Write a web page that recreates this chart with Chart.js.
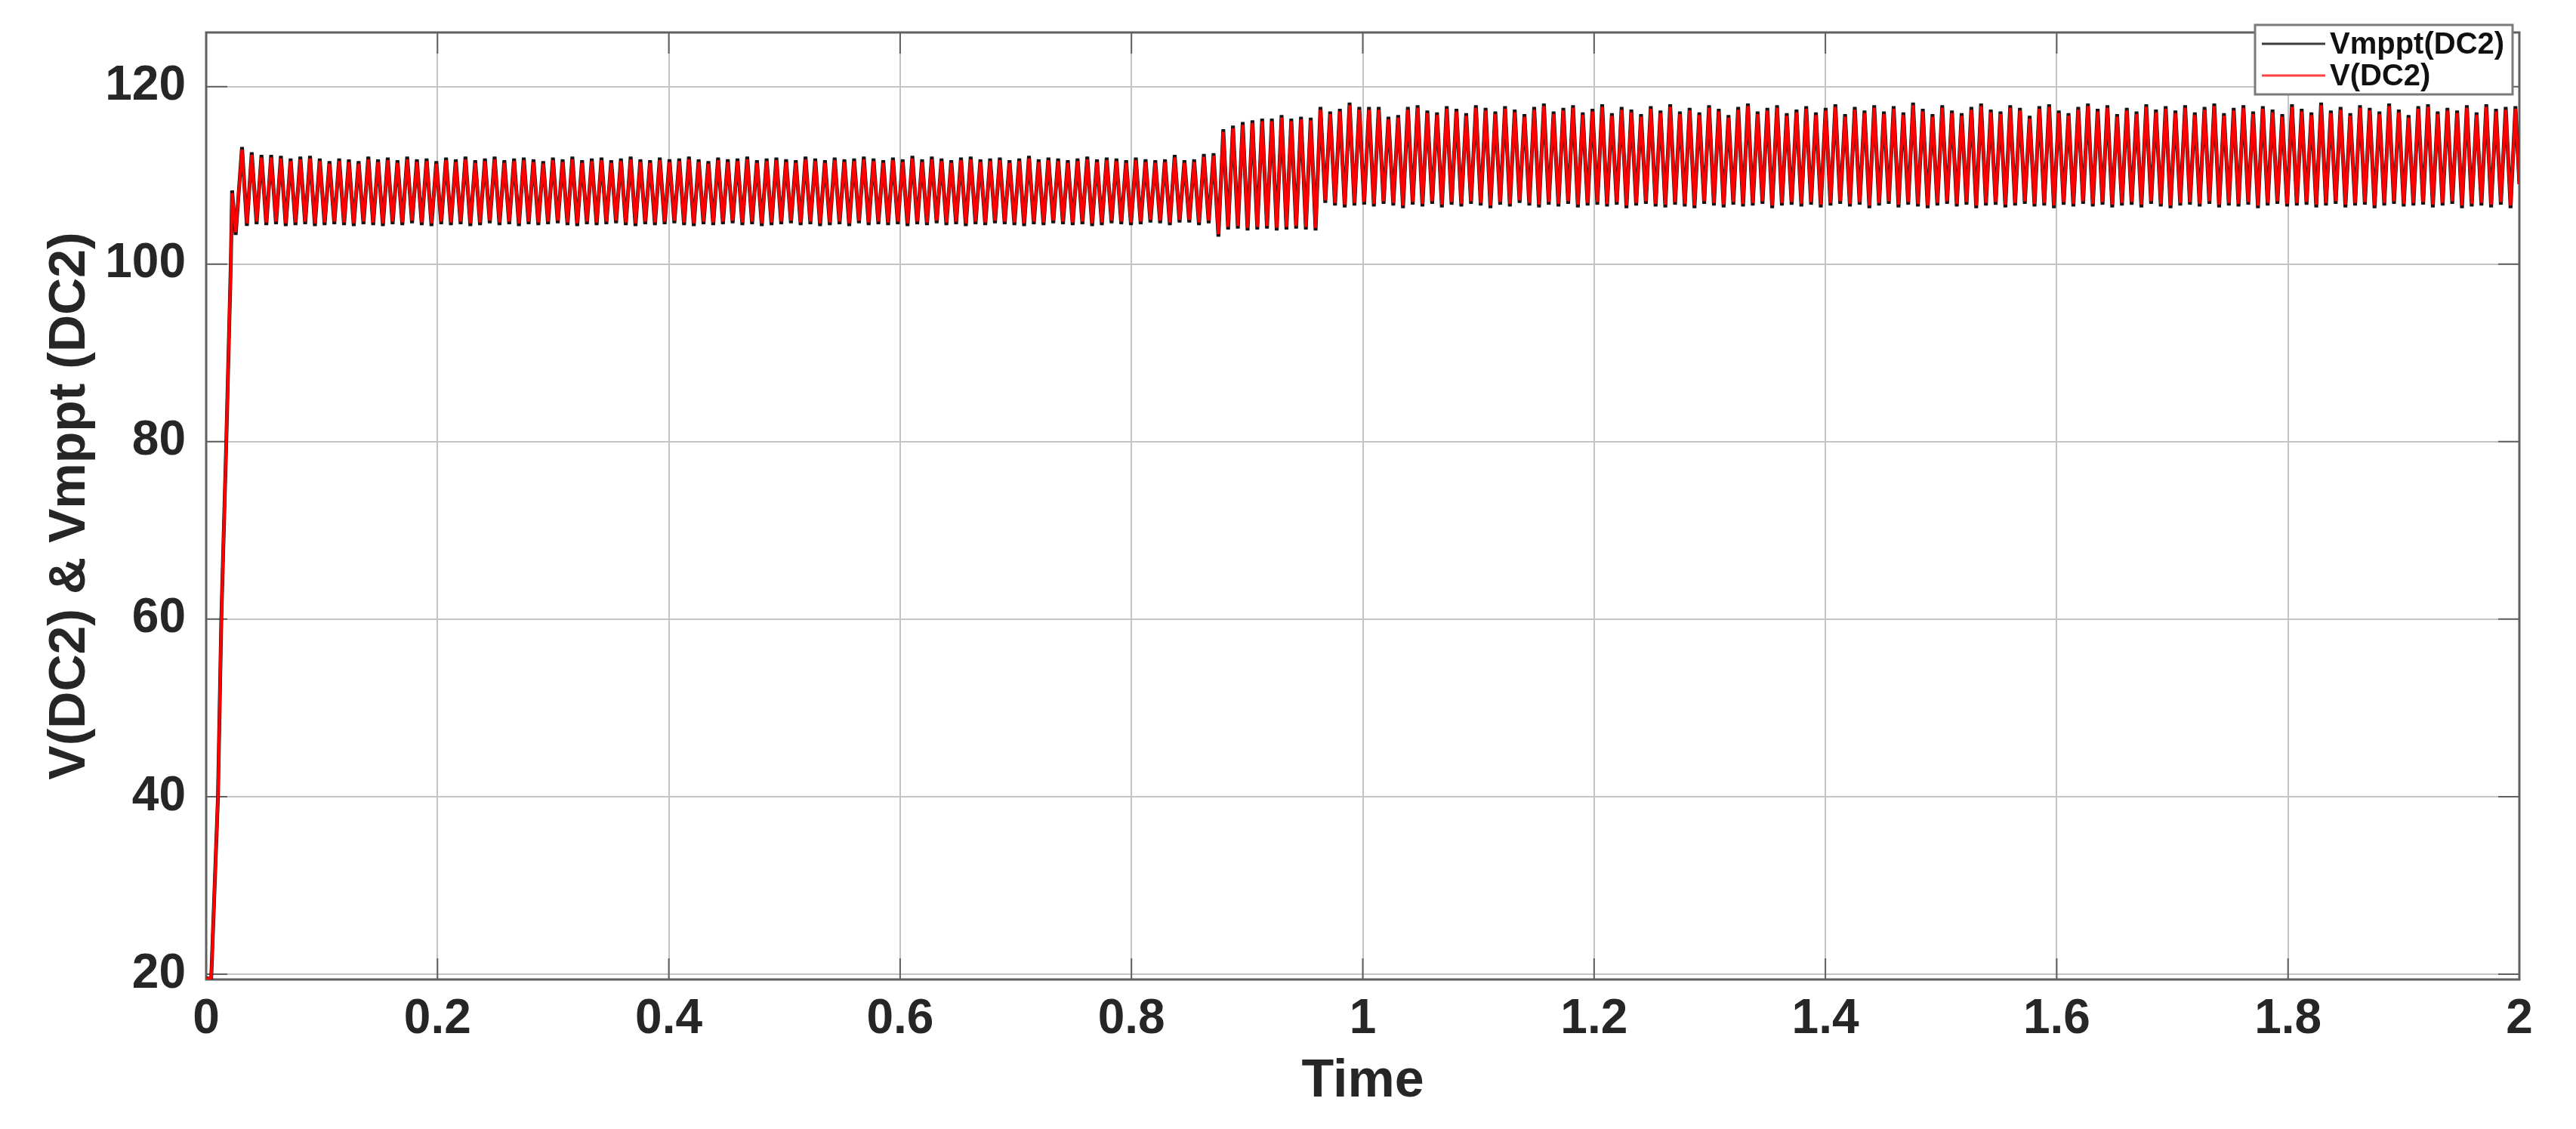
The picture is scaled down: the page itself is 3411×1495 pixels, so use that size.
<!DOCTYPE html>
<html>
<head>
<meta charset="utf-8">
<title>V(DC2) & Vmppt (DC2)</title>
<script src="https://cdn.jsdelivr.net/npm/chart.js@4.4.1/dist/chart.umd.min.js"></script>
<style>
  html, body { margin: 0; padding: 0; background: #fff; }
</style>
</head>
<body>
<canvas id="voltChart" width="3411" height="1495"></canvas>
<script>
// simulation time (s) at the start-up points and at each ripple peak / trough
const time = [
  0, 0.0044, 0.0102, 0.0131, 0.0174, 0.0213, 0.0224, 0.0255,
  0.031, 0.0352, 0.0394, 0.0436, 0.0478, 0.052, 0.0562, 0.0604, 0.0646, 0.0688,
  0.073, 0.0772, 0.0814, 0.0856, 0.0898, 0.094, 0.0982, 0.1024, 0.1066, 0.1108,
  0.115, 0.1192, 0.1234, 0.1276, 0.1318, 0.136, 0.1402, 0.1444, 0.1486, 0.1528,
  0.157, 0.1612, 0.1654, 0.1696, 0.1738, 0.178, 0.1822, 0.1864, 0.1906, 0.1948,
  0.199, 0.2032, 0.2074, 0.2116, 0.2158, 0.22, 0.2242, 0.2284, 0.2326, 0.2368,
  0.241, 0.2452, 0.2494, 0.2536, 0.2578, 0.262, 0.2662, 0.2704, 0.2746, 0.2788,
  0.283, 0.2872, 0.2914, 0.2956, 0.2998, 0.304, 0.3082, 0.3124, 0.3166, 0.3208,
  0.325, 0.3292, 0.3334, 0.3376, 0.3418, 0.346, 0.3502, 0.3544, 0.3586, 0.3628,
  0.367, 0.3712, 0.3754, 0.3796, 0.3838, 0.388, 0.3922, 0.3964, 0.4006, 0.4048,
  0.409, 0.4132, 0.4174, 0.4216, 0.4258, 0.43, 0.4342, 0.4384, 0.4426, 0.4468,
  0.451, 0.4552, 0.4594, 0.4636, 0.4678, 0.472, 0.4762, 0.4804, 0.4846, 0.4888,
  0.493, 0.4972, 0.5014, 0.5056, 0.5098, 0.514, 0.5182, 0.5224, 0.5266, 0.5308,
  0.535, 0.5392, 0.5434, 0.5476, 0.5518, 0.556, 0.5602, 0.5644, 0.5686, 0.5728,
  0.577, 0.5812, 0.5854, 0.5896, 0.5938, 0.598, 0.6022, 0.6064, 0.6106, 0.6148,
  0.619, 0.6232, 0.6274, 0.6316, 0.6358, 0.64, 0.6442, 0.6484, 0.6526, 0.6568,
  0.661, 0.6652, 0.6694, 0.6736, 0.6778, 0.682, 0.6862, 0.6904, 0.6946, 0.6988,
  0.703, 0.7072, 0.7114, 0.7156, 0.7198, 0.724, 0.7282, 0.7324, 0.7366, 0.7408,
  0.745, 0.7492, 0.7534, 0.7576, 0.7618, 0.766, 0.7702, 0.7744, 0.7786, 0.7828,
  0.787, 0.7912, 0.7954, 0.7996, 0.8038, 0.808, 0.8122, 0.8164, 0.8206, 0.8248,
  0.829, 0.8332, 0.8374, 0.8416, 0.8458, 0.85, 0.8542, 0.8584, 0.8626, 0.8668,
  0.871, 0.8752, 0.8794, 0.8836, 0.8878, 0.892, 0.8962, 0.9004, 0.9046, 0.9088,
  0.913, 0.9172, 0.9214, 0.9256, 0.9298, 0.934, 0.9382, 0.9424, 0.9466, 0.9508,
  0.955, 0.9592, 0.9634, 0.9676, 0.9718, 0.976, 0.9802, 0.9844, 0.9886, 0.9928,
  0.997, 1.0012, 1.0054, 1.0096, 1.0138, 1.018, 1.0222, 1.0264, 1.0306, 1.0348,
  1.039, 1.0432, 1.0474, 1.0516, 1.0558, 1.06, 1.0642, 1.0684, 1.0726, 1.0768,
  1.081, 1.0852, 1.0894, 1.0936, 1.0978, 1.102, 1.1062, 1.1104, 1.1146, 1.1188,
  1.123, 1.1272, 1.1314, 1.1356, 1.1398, 1.144, 1.1482, 1.1524, 1.1566, 1.1608,
  1.165, 1.1692, 1.1734, 1.1776, 1.1818, 1.186, 1.1902, 1.1944, 1.1986, 1.2028,
  1.207, 1.2112, 1.2154, 1.2196, 1.2238, 1.228, 1.2322, 1.2364, 1.2406, 1.2448,
  1.249, 1.2532, 1.2574, 1.2616, 1.2658, 1.27, 1.2742, 1.2784, 1.2826, 1.2868,
  1.291, 1.2952, 1.2994, 1.3036, 1.3078, 1.312, 1.3162, 1.3204, 1.3246, 1.3288,
  1.333, 1.3372, 1.3414, 1.3456, 1.3498, 1.354, 1.3582, 1.3624, 1.3666, 1.3708,
  1.375, 1.3792, 1.3834, 1.3876, 1.3918, 1.396, 1.4002, 1.4044, 1.4086, 1.4128,
  1.417, 1.4212, 1.4254, 1.4296, 1.4338, 1.438, 1.4422, 1.4464, 1.4506, 1.4548,
  1.459, 1.4632, 1.4674, 1.4716, 1.4758, 1.48, 1.4842, 1.4884, 1.4926, 1.4968,
  1.501, 1.5052, 1.5094, 1.5136, 1.5178, 1.522, 1.5262, 1.5304, 1.5346, 1.5388,
  1.543, 1.5472, 1.5514, 1.5556, 1.5598, 1.564, 1.5682, 1.5724, 1.5766, 1.5808,
  1.585, 1.5892, 1.5934, 1.5976, 1.6018, 1.606, 1.6102, 1.6144, 1.6186, 1.6228,
  1.627, 1.6312, 1.6354, 1.6396, 1.6438, 1.648, 1.6522, 1.6564, 1.6606, 1.6648,
  1.669, 1.6732, 1.6774, 1.6816, 1.6858, 1.69, 1.6942, 1.6984, 1.7026, 1.7068,
  1.711, 1.7152, 1.7194, 1.7236, 1.7278, 1.732, 1.7362, 1.7404, 1.7446, 1.7488,
  1.753, 1.7572, 1.7614, 1.7656, 1.7698, 1.774, 1.7782, 1.7824, 1.7866, 1.7908,
  1.795, 1.7992, 1.8034, 1.8076, 1.8118, 1.816, 1.8202, 1.8244, 1.8286, 1.8328,
  1.837, 1.8412, 1.8454, 1.8496, 1.8538, 1.858, 1.8622, 1.8664, 1.8706, 1.8748,
  1.879, 1.8832, 1.8874, 1.8916, 1.8958, 1.9, 1.9042, 1.9084, 1.9126, 1.9168,
  1.921, 1.9252, 1.9294, 1.9336, 1.9378, 1.942, 1.9462, 1.9504, 1.9546, 1.9588,
  1.963, 1.9672, 1.9714, 1.9756, 1.9798, 1.984, 1.9882, 1.9924, 1.9966,
  2.0
];

// measured DC-link voltage V(DC2)
const vDC2 = [
  19.5, 19.6, 40, 60, 80, 100, 108.0, 103.6,
  112.9, 104.6, 112.3, 104.8, 112.0, 104.7, 112.0, 104.8, 111.9, 104.6,
  111.6, 104.7, 111.8, 104.8, 111.9, 104.6, 111.6, 104.7, 111.3, 104.8,
  111.6, 104.7, 111.5, 104.6, 111.3, 104.8, 111.8, 104.7, 111.5, 104.6,
  111.7, 104.8, 111.4, 104.7, 111.8, 104.9, 111.5, 104.7, 111.6, 104.6,
  111.3, 104.8, 111.7, 104.7, 111.5, 104.8, 111.8, 104.6, 111.4, 104.7,
  111.6, 104.9, 111.8, 104.7, 111.4, 104.8, 111.6, 104.6, 111.7, 104.8,
  111.5, 104.7, 111.3, 104.8, 111.7, 104.9, 111.5, 104.7, 111.8, 104.6,
  111.4, 104.8, 111.6, 104.7, 111.7, 104.8, 111.4, 104.9, 111.6, 104.7,
  111.8, 104.6, 111.5, 104.8, 111.4, 104.7, 111.7, 104.8, 111.5, 104.9,
  111.6, 104.7, 111.8, 104.6, 111.5, 104.8, 111.3, 104.7, 111.7, 104.8,
  111.5, 104.9, 111.6, 104.7, 111.8, 104.8, 111.4, 104.6, 111.6, 104.7,
  111.7, 104.8, 111.5, 104.9, 111.4, 104.7, 111.8, 104.8, 111.6, 104.6,
  111.4, 104.7, 111.7, 104.8, 111.5, 104.6, 111.6, 104.9, 111.8, 104.7,
  111.6, 104.8, 111.4, 104.7, 111.7, 104.8, 111.5, 104.6, 111.9, 104.8,
  111.5, 104.7, 111.8, 104.9, 111.6, 104.7, 111.4, 104.8, 111.7, 104.6,
  111.8, 104.8, 111.5, 104.7, 111.6, 104.9, 111.7, 104.8, 111.4, 104.7,
  111.6, 104.6, 111.9, 104.8, 111.5, 104.7, 111.7, 104.9, 111.6, 104.8,
  111.4, 104.7, 111.6, 104.8, 111.8, 104.6, 111.5, 104.7, 111.7, 104.9,
  111.6, 104.8, 111.4, 104.7, 111.7, 104.8, 111.5, 105.0, 111.4, 104.9,
  111.5, 104.7, 112.0, 105.0, 111.4, 105.0, 111.5, 104.7, 112.1, 104.9,
  112.2, 103.4, 114.9, 104.2, 115.3, 104.3, 115.7, 104.1, 115.9, 104.2,
  116.1, 104.3, 116.1, 104.1, 116.5, 104.2, 116.1, 104.3, 116.3, 104.2,
  116.2, 104.1, 117.4, 107.2, 116.9, 106.9, 117.2, 106.7, 117.9, 106.9,
  117.4, 107.0, 117.4, 106.8, 117.4, 107.1, 116.3, 106.9, 116.5, 106.6,
  117.4, 107.0, 117.6, 106.8, 117.0, 107.1, 116.8, 106.7, 117.5, 107.0,
  117.2, 106.8, 116.7, 107.1, 117.6, 106.9, 117.3, 106.6, 116.9, 107.0,
  117.5, 106.8, 117.1, 107.2, 116.6, 106.9, 117.4, 106.7, 117.8, 107.0,
  116.9, 106.8, 117.3, 107.1, 117.6, 106.7, 116.8, 106.9, 117.2, 107.0,
  117.7, 106.8, 116.7, 107.0, 117.4, 106.6, 117.1, 106.9, 116.6, 107.1,
  117.5, 106.8, 117.0, 106.7, 117.7, 107.0, 116.9, 106.8, 117.3, 106.6,
  116.8, 107.1, 117.6, 106.9, 117.2, 106.7, 116.5, 107.0, 117.4, 106.8,
  117.8, 106.9, 116.9, 107.1, 117.3, 106.6, 117.6, 106.9, 116.7, 107.0,
  117.1, 106.8, 117.5, 107.0, 116.8, 106.7, 117.3, 106.9, 117.7, 107.1,
  116.6, 106.8, 117.4, 107.0, 117.0, 106.6, 117.6, 106.9, 116.9, 107.1,
  117.5, 106.7, 116.8, 107.0, 117.9, 106.8, 117.2, 106.6, 116.6, 106.9,
  117.6, 107.1, 117.0, 106.8, 116.7, 107.0, 117.4, 106.6, 117.8, 106.9,
  117.1, 107.0, 116.9, 106.7, 117.6, 106.9, 117.3, 107.1, 116.4, 106.8,
  117.5, 106.9, 117.7, 106.6, 117.0, 107.0, 116.7, 106.8, 117.4, 107.1,
  117.8, 106.8, 117.2, 107.0, 117.6, 106.7, 116.6, 106.9, 117.3, 107.0,
  116.9, 106.7, 117.7, 107.1, 117.1, 106.8, 117.5, 106.6, 117.0, 106.9,
  117.6, 107.0, 116.8, 106.8, 117.4, 107.1, 117.8, 106.7, 116.7, 106.9,
  117.3, 106.8, 117.6, 107.0, 116.9, 106.6, 117.5, 106.9, 117.1, 107.1,
  116.6, 106.8, 117.7, 106.9, 117.2, 107.0, 116.8, 106.7, 117.9, 106.9,
  117.0, 107.1, 117.4, 106.7, 116.7, 106.9, 117.6, 107.0, 117.3, 106.6,
  116.9, 106.9, 117.8, 107.1, 117.1, 106.8, 116.5, 106.9, 117.5, 107.0,
  117.7, 106.7, 116.9, 106.9, 117.3, 107.1, 117.0, 106.6, 117.6, 106.8,
  116.8, 106.9, 117.7, 106.7, 117.2, 107.0, 117.4, 106.6, 117.5,
  109.0
];

// MPPT reference voltage Vmppt(DC2)
const vMppt = [
  19.5, 19.6, 40, 60, 80, 100, 108.3, 103.3,
  113.2, 104.3, 112.6, 104.5, 112.3, 104.4, 112.3, 104.5, 112.2, 104.3,
  111.9, 104.4, 112.1, 104.5, 112.2, 104.3, 111.9, 104.4, 111.6, 104.5,
  111.9, 104.4, 111.8, 104.3, 111.6, 104.5, 112.1, 104.4, 111.8, 104.3,
  112.0, 104.5, 111.7, 104.4, 112.1, 104.6, 111.8, 104.4, 111.9, 104.3,
  111.6, 104.5, 112.0, 104.4, 111.8, 104.5, 112.1, 104.3, 111.7, 104.4,
  111.9, 104.6, 112.1, 104.4, 111.7, 104.5, 111.9, 104.3, 112.0, 104.5,
  111.8, 104.4, 111.6, 104.5, 112.0, 104.6, 111.8, 104.4, 112.1, 104.3,
  111.7, 104.5, 111.9, 104.4, 112.0, 104.5, 111.7, 104.6, 111.9, 104.4,
  112.1, 104.3, 111.8, 104.5, 111.7, 104.4, 112.0, 104.5, 111.8, 104.6,
  111.9, 104.4, 112.1, 104.3, 111.8, 104.5, 111.6, 104.4, 112.0, 104.5,
  111.8, 104.6, 111.9, 104.4, 112.1, 104.5, 111.7, 104.3, 111.9, 104.4,
  112.0, 104.5, 111.8, 104.6, 111.7, 104.4, 112.1, 104.5, 111.9, 104.3,
  111.7, 104.4, 112.0, 104.5, 111.8, 104.3, 111.9, 104.6, 112.1, 104.4,
  111.9, 104.5, 111.7, 104.4, 112.0, 104.5, 111.8, 104.3, 112.2, 104.5,
  111.8, 104.4, 112.1, 104.6, 111.9, 104.4, 111.7, 104.5, 112.0, 104.3,
  112.1, 104.5, 111.8, 104.4, 111.9, 104.6, 112.0, 104.5, 111.7, 104.4,
  111.9, 104.3, 112.2, 104.5, 111.8, 104.4, 112.0, 104.6, 111.9, 104.5,
  111.7, 104.4, 111.9, 104.5, 112.1, 104.3, 111.8, 104.4, 112.0, 104.6,
  111.9, 104.5, 111.7, 104.4, 112.0, 104.5, 111.8, 104.7, 111.7, 104.6,
  111.8, 104.4, 112.3, 104.7, 111.7, 104.7, 111.8, 104.4, 112.4, 104.6,
  112.5, 103.1, 115.2, 103.9, 115.6, 104.0, 116.0, 103.8, 116.2, 103.9,
  116.4, 104.0, 116.4, 103.8, 116.8, 103.9, 116.4, 104.0, 116.6, 103.9,
  116.5, 103.8, 117.7, 106.9, 117.2, 106.6, 117.5, 106.4, 118.2, 106.6,
  117.7, 106.7, 117.7, 106.5, 117.7, 106.8, 116.6, 106.6, 116.8, 106.3,
  117.7, 106.7, 117.9, 106.5, 117.3, 106.8, 117.1, 106.4, 117.8, 106.7,
  117.5, 106.5, 117.0, 106.8, 117.9, 106.6, 117.6, 106.3, 117.2, 106.7,
  117.8, 106.5, 117.4, 106.9, 116.9, 106.6, 117.7, 106.4, 118.1, 106.7,
  117.2, 106.5, 117.6, 106.8, 117.9, 106.4, 117.1, 106.6, 117.5, 106.7,
  118.0, 106.5, 117.0, 106.7, 117.7, 106.3, 117.4, 106.6, 116.9, 106.8,
  117.8, 106.5, 117.3, 106.4, 118.0, 106.7, 117.2, 106.5, 117.6, 106.3,
  117.1, 106.8, 117.9, 106.6, 117.5, 106.4, 116.8, 106.7, 117.7, 106.5,
  118.1, 106.6, 117.2, 106.8, 117.6, 106.3, 117.9, 106.6, 117.0, 106.7,
  117.4, 106.5, 117.8, 106.7, 117.1, 106.4, 117.6, 106.6, 118.0, 106.8,
  116.9, 106.5, 117.7, 106.7, 117.3, 106.3, 117.9, 106.6, 117.2, 106.8,
  117.8, 106.4, 117.1, 106.7, 118.2, 106.5, 117.5, 106.3, 116.9, 106.6,
  117.9, 106.8, 117.3, 106.5, 117.0, 106.7, 117.7, 106.3, 118.1, 106.6,
  117.4, 106.7, 117.2, 106.4, 117.9, 106.6, 117.6, 106.8, 116.7, 106.5,
  117.8, 106.6, 118.0, 106.3, 117.3, 106.7, 117.0, 106.5, 117.7, 106.8,
  118.1, 106.5, 117.5, 106.7, 117.9, 106.4, 116.9, 106.6, 117.6, 106.7,
  117.2, 106.4, 118.0, 106.8, 117.4, 106.5, 117.8, 106.3, 117.3, 106.6,
  117.9, 106.7, 117.1, 106.5, 117.7, 106.8, 118.1, 106.4, 117.0, 106.6,
  117.6, 106.5, 117.9, 106.7, 117.2, 106.3, 117.8, 106.6, 117.4, 106.8,
  116.9, 106.5, 118.0, 106.6, 117.5, 106.7, 117.1, 106.4, 118.2, 106.6,
  117.3, 106.8, 117.7, 106.4, 117.0, 106.6, 117.9, 106.7, 117.6, 106.3,
  117.2, 106.6, 118.1, 106.8, 117.4, 106.5, 116.8, 106.6, 117.8, 106.7,
  118.0, 106.4, 117.2, 106.6, 117.6, 106.8, 117.3, 106.3, 117.9, 106.5,
  117.1, 106.6, 118.0, 106.4, 117.5, 106.7, 117.7, 106.3, 117.8,
  109.0
];

// axis limits as set on the original MATLAB axes
const timeRange = [0, 2];
const voltRange = [19.4, 126.1];
const timeStep = 0.2;
const voltStep = 20;

const FONT = '"Liberation Sans", Arial, Helvetica, sans-serif';
const TEXT_COLOR = '#262626';
const GRID_COLOR = '#c4c4c4';
const AXIS_COLOR = '#606060';

Chart.defaults.font.family = FONT;

// MATLAB style box round the axes, with inward tick marks on all four sides
const axesBox = {
  id: 'axesBox',
  beforeDatasetsDraw(chart) {
    const { ctx, chartArea: a, scales } = chart;
    const len = 28;
    ctx.save();
    ctx.strokeStyle = AXIS_COLOR;
    ctx.lineWidth = 2;
    ctx.beginPath();
    scales.x.ticks.forEach(t => {
      const px = scales.x.getPixelForValue(t.value);
      ctx.moveTo(px, a.bottom);
      ctx.lineTo(px, a.bottom - len);
      ctx.moveTo(px, a.top);
      ctx.lineTo(px, a.top + len);
    });
    scales.y.ticks.forEach(t => {
      const py = scales.y.getPixelForValue(t.value);
      ctx.moveTo(a.left, py);
      ctx.lineTo(a.left + len, py);
      ctx.moveTo(a.right, py);
      ctx.lineTo(a.right - len, py);
    });
    ctx.stroke();
    ctx.lineWidth = 3;
    ctx.strokeRect(a.left, a.top, a.right - a.left, a.bottom - a.top);
    ctx.restore();
  }
};

// legend box sitting on the top right corner of the axes
const boxLegend = {
  id: 'boxLegend',
  afterDraw(chart) {
    const { ctx, chartArea } = chart;
    const w = 341, h = 92;
    const x0 = chartArea.right - w - 9;
    const y0 = chartArea.top - 10;
    ctx.save();
    ctx.fillStyle = '#fff';
    ctx.fillRect(x0, y0, w, h);
    ctx.strokeStyle = '#7a7a7a';
    ctx.lineWidth = 3;
    ctx.strokeRect(x0, y0, w, h);
    ctx.font = 'bold 40px ' + FONT;
    ctx.textBaseline = 'middle';
    ctx.textAlign = 'left';
    chart.data.datasets.forEach((ds, i) => {
      const y = y0 + 25 + i * 42;
      ctx.strokeStyle = ds.legendColor;
      ctx.lineWidth = 3;
      ctx.beginPath();
      ctx.moveTo(x0 + 9, y);
      ctx.lineTo(x0 + 93, y);
      ctx.stroke();
      ctx.fillStyle = '#111';
      ctx.fillText(ds.label, x0 + 99, y + 2);
    });
    ctx.restore();
  }
};

const toPoints = values => time.map((t, i) => ({ x: t, y: values[i] }));

new Chart(document.getElementById('voltChart'), {
  type: 'line',
  data: {
    datasets: [
      {
        label: 'Vmppt(DC2)',
        data: toPoints(vMppt),
        borderColor: '#141414',
        borderWidth: 5,
        legendColor: '#3c3c3c',
        order: 1
      },
      {
        label: 'V(DC2)',
        data: toPoints(vDC2),
        borderColor: '#ff0000',
        borderWidth: 4,
        legendColor: '#ff4040',
        order: 0
      }
    ]
  },
  options: {
    responsive: false,
    animation: false,
    normalized: true,
    elements: {
      point: { radius: 0, hoverRadius: 0 },
      line: { tension: 0, borderJoinStyle: 'miter' }
    },
    layout: { padding: { left: 0, right: 75, top: 43, bottom: 0 } },
    plugins: {
      legend: { display: false },
      tooltip: { enabled: false }
    },
    scales: {
      x: {
        type: 'linear',
        min: timeRange[0],
        max: timeRange[1],
        afterFit: scale => {
          scale.height = 198;
          scale.paddingLeft = 0;
          scale.paddingRight = 0;
        },
        border: { display: false },
        grid: { color: GRID_COLOR, lineWidth: 2, drawTicks: false },
        ticks: {
          stepSize: timeStep,
          padding: 15,
          autoSkip: false,
          maxRotation: 0,
          color: TEXT_COLOR,
          font: { size: 64, weight: 'bold' },
          callback: v => String(Math.round(v * 10) / 10)
        },
        title: {
          display: true,
          text: 'Time',
          color: TEXT_COLOR,
          font: { size: 70, weight: 'bold' },
          padding: { top: 0, bottom: 20 }
        }
      },
      y: {
        min: voltRange[0],
        max: voltRange[1],
        afterFit: scale => {
          scale.width = 273;
          scale.paddingTop = 0;
          scale.paddingBottom = 0;
        },
        border: { display: false },
        grid: { color: GRID_COLOR, lineWidth: 2, drawTicks: false },
        ticks: {
          stepSize: voltStep,
          includeBounds: false,
          padding: 27,
          color: TEXT_COLOR,
          font: { size: 64, weight: 'bold' }
        },
        title: {
          display: true,
          text: 'V(DC2) & Vmppt (DC2)',
          color: TEXT_COLOR,
          font: { size: 68, weight: 'bold' },
          padding: { top: 52, bottom: 0 }
        }
      }
    }
  },
  plugins: [axesBox, boxLegend]
});
</script>
</body>
</html>
